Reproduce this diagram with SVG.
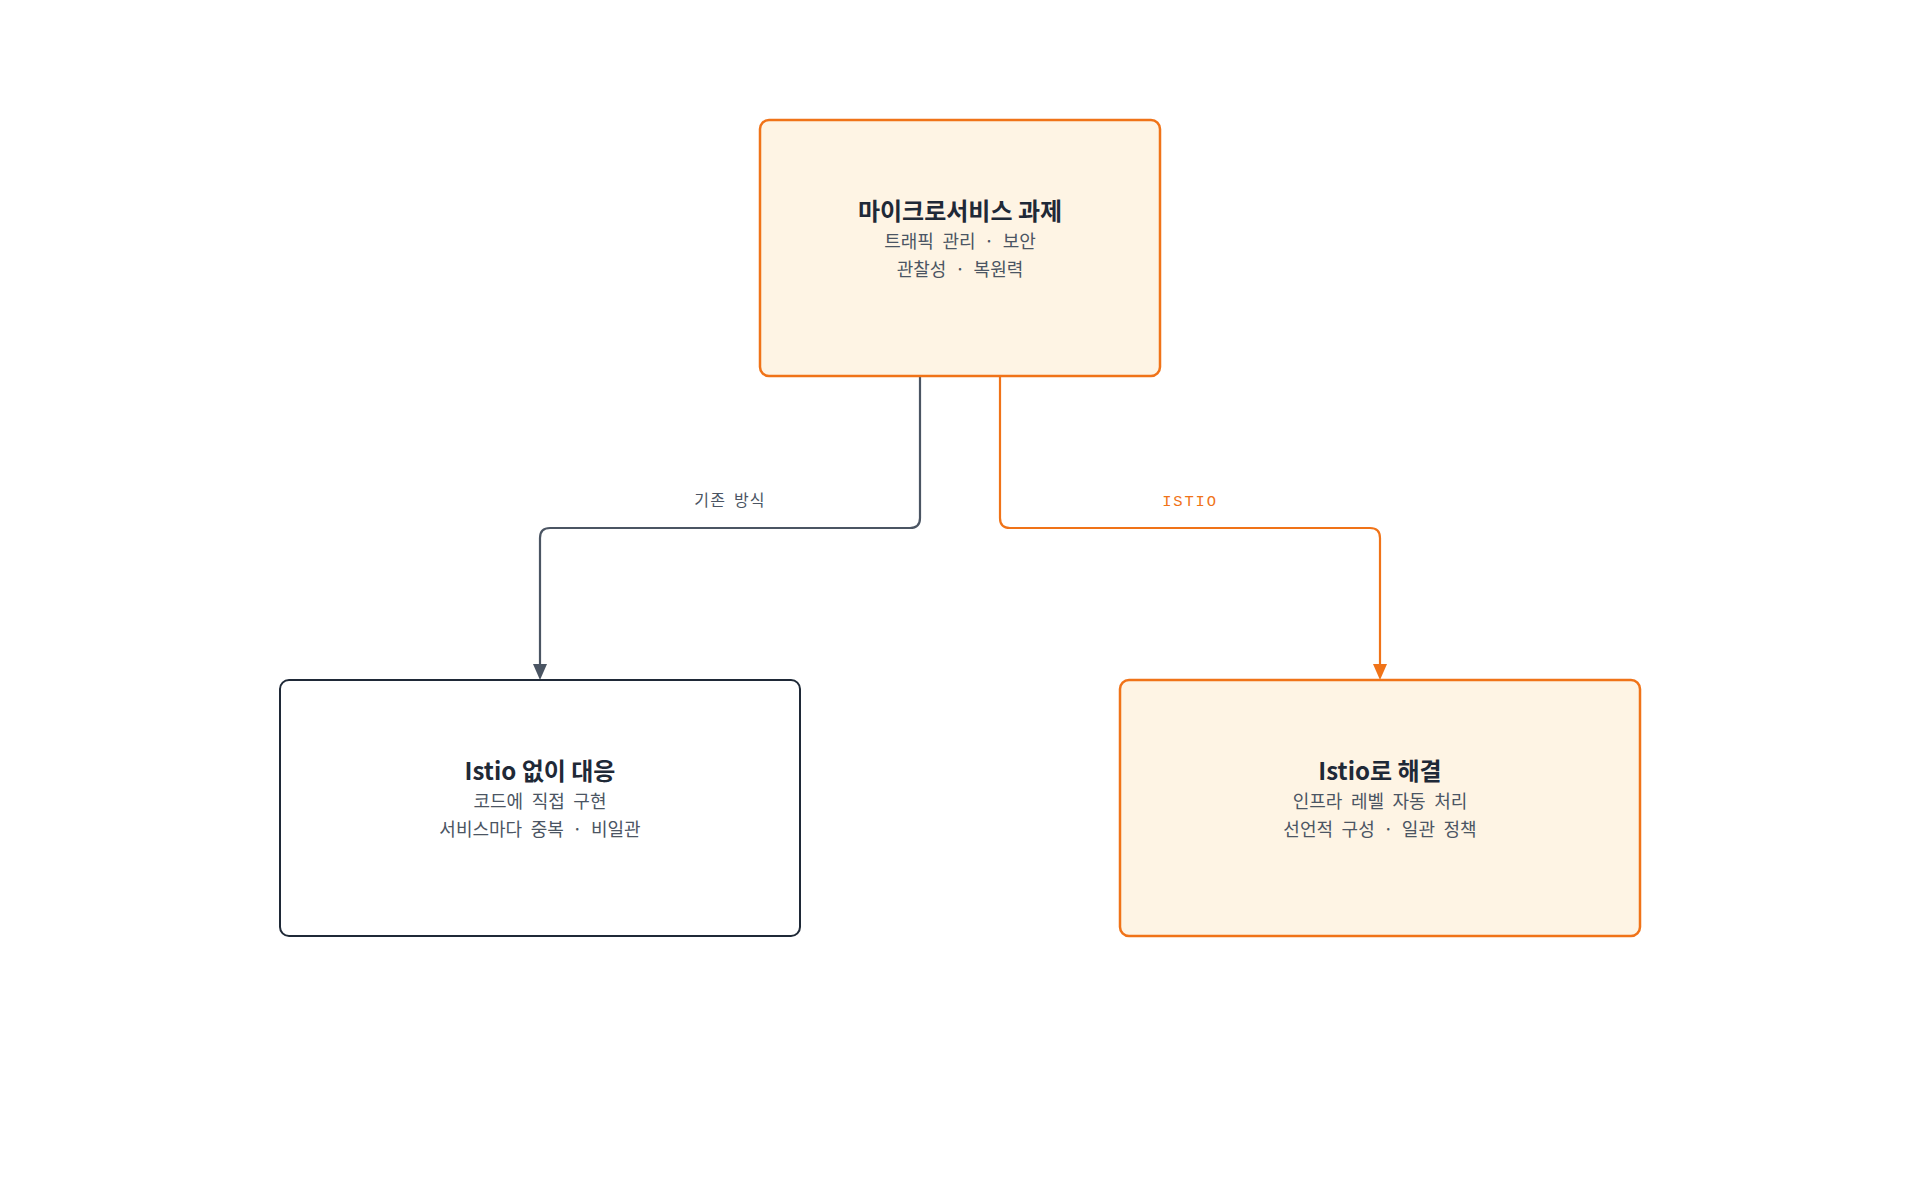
<svg xmlns="http://www.w3.org/2000/svg" width="1920" height="1200" viewBox="0 0 1920 1200">
<defs>
<style>
.title{font-family:"Noto Sans CJK KR","Noto Sans",sans-serif;font-weight:700;font-size:24px;fill:#1f2937;text-anchor:middle}
.sub{font-family:"Noto Sans CJK KR","Noto Sans",sans-serif;font-size:18px;fill:#4b5563;text-anchor:middle;word-spacing:4.5px}
.lbl{font-family:"Noto Sans CJK KR",sans-serif;font-size:16px;fill:#4b5563;text-anchor:middle;letter-spacing:1.2px;word-spacing:3px}
.lblm{font-family:"Liberation Mono","DejaVu Sans Mono",monospace;font-size:15.5px;fill:#f07318;text-anchor:middle;letter-spacing:1.8px}
.hl{fill:#fef4e4;stroke:#f07318;stroke-width:2.5}
.plain{fill:#ffffff;stroke:#1f2937;stroke-width:2}
.c-gray{fill:none;stroke:#4b5563;stroke-width:2.2}
.c-or{fill:none;stroke:#f07318;stroke-width:2.2}
</style>
</defs>
<rect width="1920" height="1200" fill="#ffffff"/>
<g id="connectors">
<path class="c-gray" d="M920 376 V518 Q920 528 910 528 H550 Q540 528 540 538 V665"/>
<path d="M533 664 L547 664 L540 680 Z" fill="#4b5563"/>
<path class="c-or" d="M1000 376 V518 Q1000 528 1010 528 H1370 Q1380 528 1380 538 V665"/>
<path d="M1373 664 L1387 664 L1380 680 Z" fill="#f07318"/>
<text class="lbl" x="730" y="506">기존 방식</text>
<text class="lblm" x="1190" y="506">ISTIO</text>
</g>
<g id="node-challenge">
<rect class="hl" x="760" y="120" width="400" height="256" rx="9"/>
<text class="title" x="960" y="220">마이크로서비스 과제</text>
<text class="sub" x="960" y="248">트래픽 관리 · 보안</text>
<text class="sub" x="960" y="276">관찰성 · 복원력</text>
</g>
<g id="node-without">
<rect class="plain" x="280" y="680" width="520" height="256" rx="9"/>
<text class="title" x="540" y="780">Istio 없이 대응</text>
<text class="sub" x="540" y="808">코드에 직접 구현</text>
<text class="sub" x="540" y="836">서비스마다 중복 · 비일관</text>
</g>
<g id="node-istio">
<rect class="hl" x="1120" y="680" width="520" height="256" rx="9"/>
<text class="title" x="1380" y="780">Istio로 해결</text>
<text class="sub" x="1380" y="808">인프라 레벨 자동 처리</text>
<text class="sub" x="1380" y="836">선언적 구성 · 일관 정책</text>
</g>
</svg>
